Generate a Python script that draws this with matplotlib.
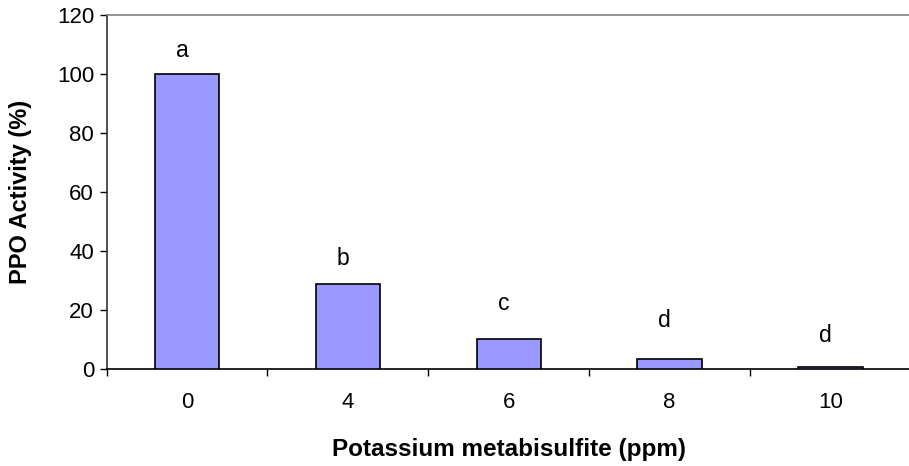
import numpy as np
import matplotlib.pyplot as plt

plt.rcParams['font.family'] = ['Liberation Sans', 'DejaVu Sans']

# PPO activity remaining after potassium metabisulfite treatment
doses = ['0', '4', '6', '8', '10']
activity = [100, 28.7, 10.1, 3.2, 0.5]
letters = ['a', 'b', 'c', 'd', 'd']
letter_y = [105.8, 35.1, 19.9, 14.1, 9.0]

fig = plt.figure(figsize=(9.09, 4.66), dpi=100)
ax = fig.add_axes([0.1172, 0.2092, 0.8850, 0.7586])

x = np.arange(len(doses))
ax.bar(x, activity, width=0.4, color='#9999FF', edgecolor='black', linewidth=1.2, zorder=3)
for xi, lab, yl in zip(x, letters, letter_y):
    ax.text(xi - 0.03, yl, lab, ha='center', va='baseline', fontsize=16.5)

ax.set_xlim(-0.5, len(doses) - 0.5)
ax.set_ylim(0, 120)
ax.set_yticks(range(0, 121, 20))
ax.set_xticks(x)
ax.set_xticklabels(doses)
ax.set_xticks(np.arange(-0.5, len(doses), 1.0), minor=True)

ax.tick_params(axis='y', direction='out', length=5, width=1, labelsize=16, pad=4)
ax.tick_params(axis='x', which='major', length=0, labelsize=16, pad=17)
ax.tick_params(axis='x', which='minor', direction='out', length=5, width=1)

ax.spines['right'].set_visible(False)
ax.spines['top'].set_color('#808080')
ax.spines['top'].set_linewidth(1.2)
ax.spines['left'].set_color('#333333')
ax.spines['left'].set_linewidth(1.2)
ax.spines['bottom'].set_linewidth(1.2)

ax.set_ylabel('PPO Activity (%)', fontsize=17, fontweight='bold', labelpad=18)
ax.set_xlabel('Potassium metabisulfite (ppm)', fontsize=17.5, fontweight='bold', labelpad=18)

fig.savefig('out.png', dpi=100)
